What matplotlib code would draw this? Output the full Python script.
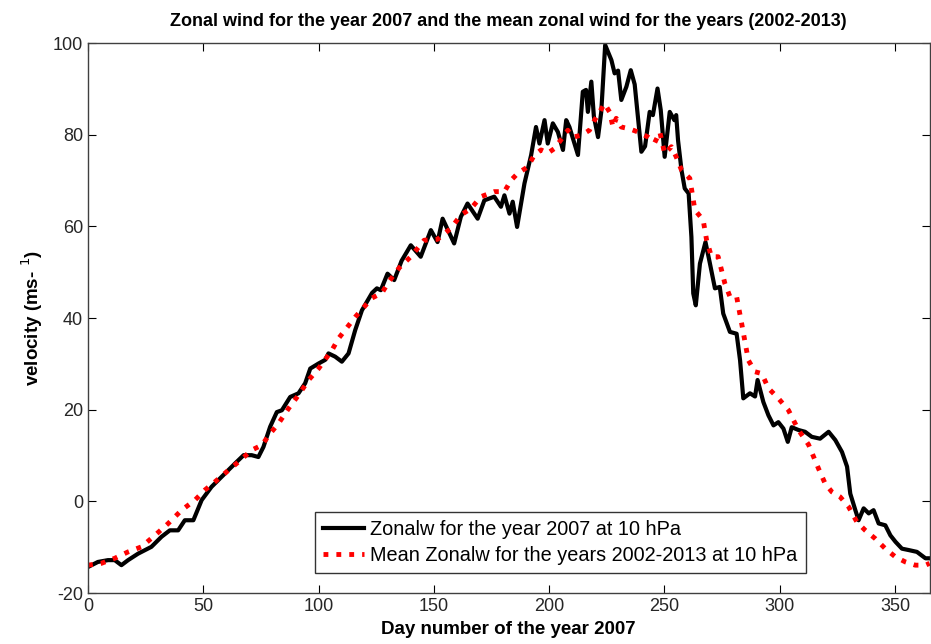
import matplotlib
matplotlib.use("Agg")
import matplotlib.pyplot as plt

# Zonal wind 2007 at 10 hPa
dias_2007 = [0, 4.3, 8.7, 11.6, 14.5, 17.4, 21.7, 27.5, 31.9, 35.5, 39.1, 42, 45.7, 49.3, 53.6, 58,
             63.8, 67.5, 71, 73.9, 76.1, 79, 81.9, 84.1, 87.7, 91.3, 94.2, 96.4, 100, 102.9, 104.3,
             107.2, 110.1, 113, 115.9, 118.8, 123.2, 125.3, 127, 129.9, 132.8, 136, 140, 144.3, 148.7,
             151.6, 153.8, 158.8, 161.7, 164.6, 169, 171.9, 176.2, 179.1, 180.6, 182.8, 184.2, 186.1,
             189.3, 192.2, 194.3, 195.8, 198, 199.4, 201.6, 203.8, 206, 207.4, 208.8, 212.5, 214.6,
             216, 216.8, 218.3, 219.4, 221.2, 222.6, 224.3, 227, 228.4, 229.9, 231.3, 233.5, 235.4,
             237.1, 240, 241.6, 243.6, 245, 247, 248.4, 250.1, 252.3, 254.3, 255.1, 255.9, 257.4,
             258.8, 260.5, 261.7, 262.5, 263.6, 265.4, 267.8, 269.7, 271.9, 274, 275.5, 278.4, 281.3,
             282.8, 284.2, 287.1, 289.3, 290.4, 292.9, 295.1, 297.3, 299.4, 301.6, 303.5, 305.2,
             308.1, 311, 313.9, 317.5, 321.2, 324.1, 327, 329.2, 330.6, 332.8, 334.2, 336.4, 338.6,
             340.7, 342.9, 345.8, 348, 350.2, 353, 355.9, 359.5, 363.2, 365]
zonal_2007 = [-14.3, -13.2, -12.8, -12.8, -13.9, -12.8, -11.4, -9.9, -7.7, -6.3, -6.3, -4.1, -4.1,
              0.3, 3.2, 5.4, 8.3, 10.1, 10.1, 9.7, 11.9, 16.3, 19.5, 19.9, 22.8, 23.6, 25.8, 29,
              30.1, 30.9, 32.3, 31.6, 30.5, 32.3, 37.4, 41.7, 45.5, 46.5, 46.1, 49.7, 48.3, 52.5,
              55.9, 53.4, 59.2, 56.6, 61.7, 56.3, 62.1, 65.0, 61.7, 65.7, 66.5, 64.3, 66.8, 62.8,
              65.4, 59.9, 69.4, 75.6, 81.7, 78.1, 83.2, 78.1, 82.5, 80.6, 76.7, 83.2, 81.7, 75.6,
              89.4, 89.8, 85.0, 91.6, 84, 79.5, 85, 99.6, 96.3, 93.4, 94, 87.6, 90.5, 94.1, 91,
              76.3, 77.5, 85.0, 84.3, 90.1, 85.4, 75.2, 85, 83.2, 84.3, 78.8, 72.3, 68.3, 67.2,
              57.7, 45.4, 42.8, 51.9, 56.6, 52, 46.5, 46.8, 41, 37, 36.6, 30.8, 22.5, 23.6, 22.9,
              26.5, 21.7, 18.8, 16.6, 17.3, 15.9, 13.0, 16.2, 15.6, 15.2, 14.1, 13.7, 15.2, 13.4,
              10.8, 7.6, 1.7, -1.9, -4.1, -1.5, -2.6, -1.9, -4.8, -5.2, -7.4, -8.8, -10.3, -10.6,
              -11, -12.4, -12.4]

# Mean zonal wind 2002-2013 at 10 hPa
dias_media = [0, 5.8, 11.6, 17.4, 23.2, 29, 34.8, 40.6, 46.4, 50.7, 55.1, 60.9, 65.2, 71, 75.4, 79,
              82.6, 87, 91.3, 95.7, 100, 105.8, 108.7, 116, 123.2, 127.5, 130.4, 135, 140, 145.8,
              151.6, 157.4, 161.7, 166.1, 170.4, 176.2, 180.6, 183.5, 186.4, 190.7, 193.6, 196.5,
              199.4, 202.3, 206, 208.1, 210.3, 213.9, 217.5, 219.7, 221.9, 224, 226.2, 227.7, 229.1,
              231.3, 234.9, 238.6, 242.9, 245.8, 248, 250.1, 253, 255.1, 257.4, 261, 263.2, 266.8,
              268.3, 270.4, 273.3, 276.2, 278.4, 281.3, 283.5, 286.4, 289.3, 292.2, 295.1, 299.4,
              303.8, 308.1, 312.5, 316.8, 319.7, 322.6, 326.2, 329.9, 333.5, 337.1, 341.4, 345.8,
              350.2, 354.5, 358.8, 363.2, 365]
zonal_media = [-13.9, -13.5, -12.4, -11, -9.9, -7.4, -4.8, -1.9, 0.3, 2.5, 4.3, 6.8, 8.6, 11.2, 12.3,
               14.8, 17, 20.3, 23.2, 26.5, 29, 33, 35.6, 40.3, 44.4, 45.5, 47.9, 51, 53.4, 57, 57.2,
               59.6, 62.5, 63.9, 66.5, 67.6, 67.6, 70.1, 71.6, 73, 75.6, 76.7, 76, 77, 79.5, 81.0,
               79.5, 79.9, 81, 83.2, 85, 86.8, 85, 81.7, 83.6, 81.7, 81.3, 80.6, 79.5, 78.3, 80.6,
               75.9, 77.4, 75.2, 72.3, 70.5, 63.6, 61.4, 57, 53.4, 53.4, 47.6, 44.7, 44.7, 38.8,
               30.8, 28.3, 27.9, 24.7, 22.5, 19.9, 15.6, 12.4, 7.2, 3.9, 2.1, 1.0, -1.2, -4.5, -6.3,
               -8.1, -10.3, -12.1, -13.2, -13.9, -13.9, -13.5]

plt.rcParams['font.family'] = ['Liberation Sans', 'DejaVu Sans']
plt.rcParams['axes.unicode_minus'] = False

fig = plt.figure(figsize=(9.31, 6.44), dpi=100)
ax = fig.add_axes([0.0945, 0.079, 0.904, 0.854])

ax.plot(dias_2007, zonal_2007, color='black', linewidth=3,
        label='Zonalw for the year 2007 at 10 hPa')
ax.plot(dias_media, zonal_media, color='red', linestyle=':', linewidth=3.5,
        label='Mean Zonalw for the years 2002-2013 at 10 hPa')

ax.set_xlim(0, 365)
ax.set_ylim(-20, 100)
ax.set_xticks(range(0, 351, 50))
ax.set_yticks(range(-20, 101, 20))
ax.tick_params(direction='in', top=True, right=True, labelsize=13, length=6,
               labelcolor='#262626')
for s in ax.spines.values():
    s.set_linewidth(1)
    s.set_color('#404040')

ax.set_title('Zonal wind for the year 2007 and the mean zonal wind for the years (2002-2013)',
             fontsize=13, fontweight='bold', pad=12)
ax.set_xlabel('Day number of the year 2007', fontsize=13.5, fontweight='bold', labelpad=4)
ax.set_ylabel(r'velocity (ms- $^{1}$)', fontsize=13.5, fontweight='bold', labelpad=6)

leg = ax.legend(loc='lower center', bbox_to_anchor=(0.561, 0.036), fontsize=14.3, frameon=True,
                fancybox=False, edgecolor='black', handlelength=2.1, borderpad=0.4,
                labelspacing=0.35, handletextpad=0.3, borderaxespad=0)
leg.get_frame().set_linewidth(1)

fig.savefig('out.png', dpi=100)
